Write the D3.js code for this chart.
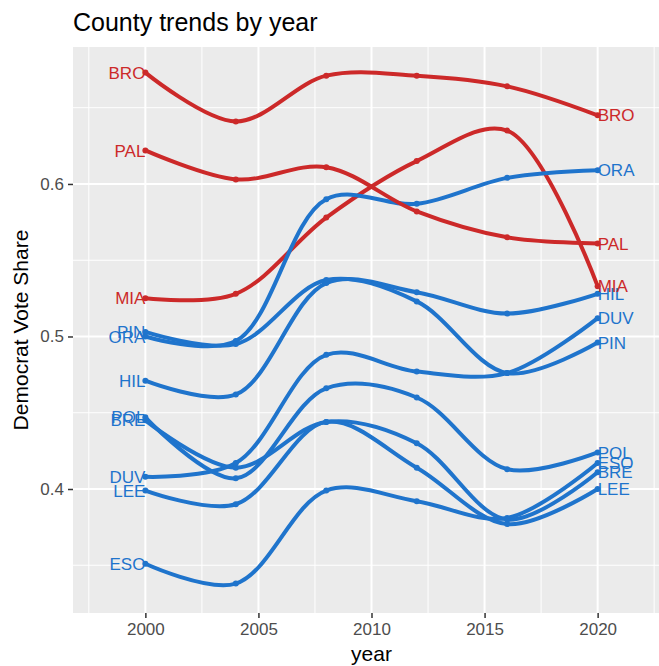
<!DOCTYPE html>
<html>
<head>
<meta charset="utf-8">
<script src="https://cdn.jsdelivr.net/npm/d3@7"></script>
<style>
  body { margin: 0; background: #fff; }
  svg text { font-family: "Liberation Sans", Arial, Helvetica, sans-serif; }
</style>
</head>
<body>
<div id="graf"></div>
<script>
// data
const years = [2000, 2004, 2008, 2012, 2016, 2020]
const counties = ["BRE", "BRO", "DUV", "ESO", "HIL", "LEE", "MIA", "ORA", "PAL", "PIN", "POL"]
const grupo = ["b", "r", "b", "b", "b", "b", "r", "b", "r", "b", "b"]

const BRE = [0.445, 0.414, 0.444, 0.430, 0.380, 0.411]
const BRO = [0.673, 0.641, 0.671, 0.671, 0.664, 0.645]
const DUV = [0.408, 0.417, 0.488, 0.477, 0.476, 0.512]
const ESO = [0.351, 0.338, 0.399, 0.392, 0.381, 0.417]
const HIL = [0.471, 0.462, 0.535, 0.529, 0.515, 0.528]
const LEE = [0.399, 0.390, 0.444, 0.414, 0.377, 0.400]
const MIA = [0.525, 0.528, 0.578, 0.615, 0.635, 0.533]
const ORA = [0.500, 0.497, 0.590, 0.587, 0.604, 0.609]
const PAL = [0.622, 0.603, 0.611, 0.582, 0.565, 0.561]
const PIN = [0.503, 0.495, 0.537, 0.523, 0.476, 0.496]
const POL = [0.447, 0.407, 0.466, 0.460, 0.413, 0.424]

const yTicks = [0.4, 0.5, 0.6]
const yMinor = [0.35, 0.45, 0.55, 0.65]
const xTicks = [2000, 2005, 2010, 2015, 2020]
const xMinor = [1997.5, 2002.5, 2007.5, 2012.5, 2017.5, 2022.5]

const valores = { BRE, BRO, DUV, ESO, HIL, LEE, MIA, ORA, PAL, PIN, POL }

const series = counties.map((c, i) => ({
  county: c,
  grupo: grupo[i],
  values: years.map((yr, j) => ({ year: yr, v: valores[c][j] }))
}))

// dimensions
const anchoTotal = 659
const altoTotal = 666
const margins = { top: 47, right: -11, bottom: 53, left: 73 }
const ancho = anchoTotal - margins.left - margins.right
const alto = altoTotal - margins.top - margins.bottom

const svg = d3.select("#graf")
  .append("svg")
  .attr("width", anchoTotal)
  .attr("height", altoTotal)

const g = svg.append("g")
  .attr("transform", `translate(${margins.left}, ${margins.top})`)

// scales
const x = d3.scaleLinear().domain([1996.8, 2023.2]).range([0, ancho])
const y = d3.scaleLinear().domain([0.3187, 0.6898]).range([alto, 0])
const color = d3.scaleOrdinal().domain(["r", "b"]).range(["#cc2929", "#1f74cc"])

// panel + grid
g.append("rect")
  .attr("width", ancho)
  .attr("height", alto)
  .attr("fill", "#ebebeb")

g.selectAll(".ymin").data(yMinor).enter().append("line")
  .attr("x1", 0).attr("x2", ancho)
  .attr("y1", d => y(d)).attr("y2", d => y(d))
  .attr("stroke", "#fff").attr("stroke-width", 1)
g.selectAll(".xmin").data(xMinor).enter().append("line")
  .attr("y1", 0).attr("y2", alto)
  .attr("x1", d => x(d)).attr("x2", d => x(d))
  .attr("stroke", "#fff").attr("stroke-width", 1)

// axes (ggplot look)
const yAxis = d3.axisLeft(y).tickValues(yTicks).tickFormat(d3.format(".1f")).tickSize(5).tickPadding(4)
const xAxis = d3.axisBottom(x).tickValues(xTicks).tickFormat(d3.format("d")).tickSize(5).tickPadding(5)

const yAxisGroup = g.append("g").call(yAxis)
const xAxisGroup = g.append("g").attr("transform", `translate(0, ${alto})`).call(xAxis)

for (const ax of [yAxisGroup, xAxisGroup]) {
  ax.select(".domain").remove()
  ax.selectAll(".tick line").attr("stroke", "#333").attr("stroke-width", 1.5)
  ax.selectAll(".tick text").attr("fill", "#4d4d4d").attr("font-size", 17)
}

// major grid
g.selectAll(".ymaj").data(yTicks).enter().append("line")
  .attr("x1", 0).attr("x2", ancho)
  .attr("y1", d => y(d)).attr("y2", d => y(d))
  .attr("stroke", "#fff").attr("stroke-width", 2)
g.selectAll(".xmaj").data(xTicks).enter().append("line")
  .attr("y1", 0).attr("y2", alto)
  .attr("x1", d => x(d)).attr("x2", d => x(d))
  .attr("stroke", "#fff").attr("stroke-width", 2)

// smooth lines
const linea = d3.line()
  .x(d => x(d.year))
  .y(d => y(d.v))
  .curve(d3.curveCatmullRom.alpha(0.5))

g.selectAll(".serie").data(series).enter().append("path")
  .attr("d", d => linea(d.values))
  .attr("fill", "none")
  .attr("stroke", d => color(d.grupo))
  .attr("stroke-width", 4)

// points
series.forEach(s => {
  g.selectAll(null).data(s.values).enter().append("circle")
    .attr("cx", d => x(d.year))
    .attr("cy", d => y(d.v))
    .attr("r", 3)
    .attr("fill", color(s.grupo))
})

// labels left and right
g.selectAll(".lab-l").data(series).enter().append("text")
  .attr("x", x(years[0]))
  .attr("y", d => y(d.values[0].v))
  .attr("dy", "0.36em")
  .attr("text-anchor", "end")
  .attr("font-size", 17)
  .attr("fill", d => color(d.grupo))
  .text(d => d.county)

g.selectAll(".lab-r").data(series).enter().append("text")
  .attr("x", x(years[years.length - 1]))
  .attr("y", d => y(d.values[d.values.length - 1].v))
  .attr("dy", "0.36em")
  .attr("text-anchor", "start")
  .attr("font-size", 17)
  .attr("fill", d => color(d.grupo))
  .text(d => d.county)

// titles
svg.append("text")
  .attr("x", margins.left)
  .attr("y", 31)
  .attr("font-size", 25)
  .attr("fill", "#000")
  .text("County trends by year")

svg.append("text")
  .attr("x", margins.left + ancho / 2)
  .attr("y", 661)
  .attr("text-anchor", "middle")
  .attr("font-size", 21)
  .text("year")

svg.append("text")
  .attr("transform", `translate(28, ${margins.top + alto / 2}) rotate(-90)`)
  .attr("text-anchor", "middle")
  .attr("font-size", 21)
  .text("Democrat Vote Share")
</script>
</body>
</html>
